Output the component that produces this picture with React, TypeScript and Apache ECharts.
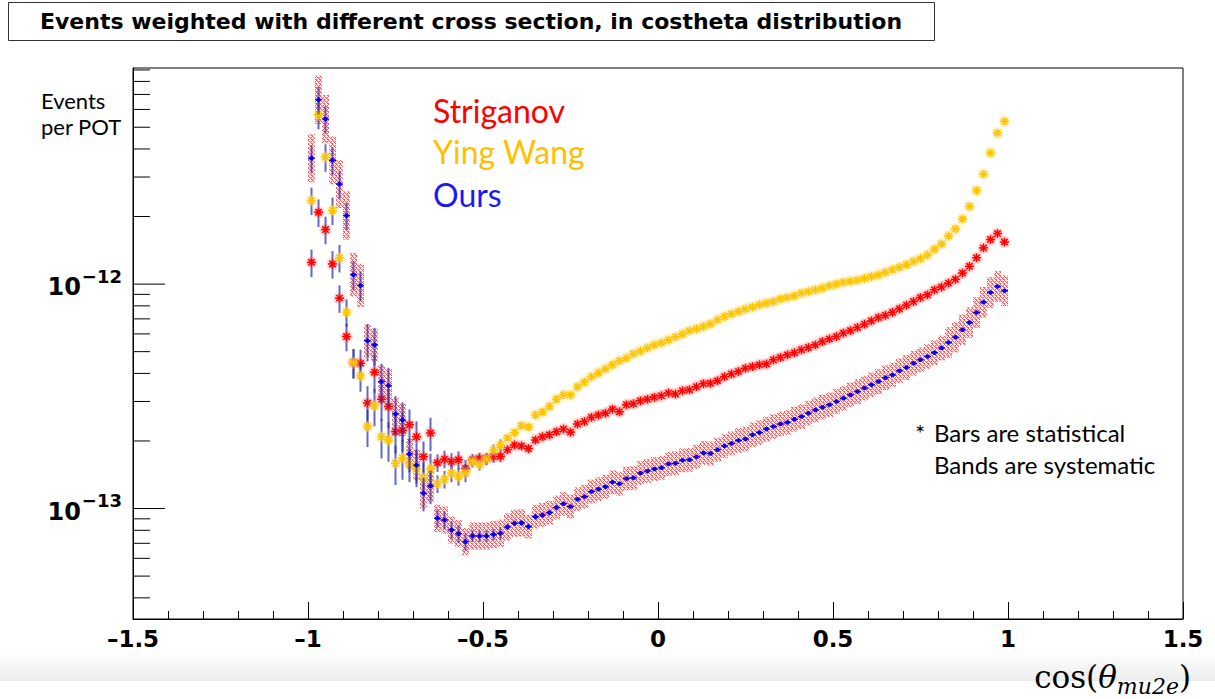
import React, { useEffect, useRef } from 'react';
import * as echarts from 'echarts';

// ---------- binning ----------
const BIN_LOW = -1;
const BIN_WIDTH = 0.02;
const N_BINS = 100;
const binCenters: number[] = Array.from({ length: N_BINS }, (_, i) => +(BIN_LOW + BIN_WIDTH * (i + 0.5)).toFixed(3));

// ---------- series values (events per POT) ----------
const striganov = [
  1.25e-12, 2.09e-12, 1.75e-12, 1.23e-12, 8.66e-13, 5.84e-13, 4.47e-13, 4.44e-13, 2.95e-13, 4.05e-13,
  3.07e-13, 2.85e-13, 2.20e-13, 2.23e-13, 2.36e-13, 2.09e-13, 1.70e-13, 2.17e-13, 1.60e-13, 1.66e-13,
  1.62e-13, 1.65e-13, 1.51e-13, 1.65e-13, 1.67e-13, 1.67e-13, 1.70e-13, 1.71e-13, 1.83e-13, 1.92e-13,
  1.90e-13, 1.85e-13, 2.02e-13, 2.09e-13, 2.13e-13, 2.20e-13, 2.26e-13, 2.19e-13, 2.38e-13, 2.44e-13,
  2.55e-13, 2.61e-13, 2.66e-13, 2.77e-13, 2.70e-13, 2.90e-13, 2.93e-13, 3.02e-13, 3.07e-13, 3.13e-13,
  3.18e-13, 3.27e-13, 3.24e-13, 3.35e-13, 3.38e-13, 3.49e-13, 3.60e-13, 3.62e-13, 3.71e-13, 3.87e-13,
  3.98e-13, 4.08e-13, 4.22e-13, 4.29e-13, 4.37e-13, 4.41e-13, 4.60e-13, 4.71e-13, 4.84e-13, 4.95e-13,
  5.10e-13, 5.22e-13, 5.36e-13, 5.55e-13, 5.70e-13, 5.84e-13, 6.05e-13, 6.21e-13, 6.41e-13, 6.63e-13,
  6.86e-13, 7.10e-13, 7.26e-13, 7.49e-13, 7.76e-13, 8.06e-13, 8.36e-13, 8.71e-13, 8.96e-13, 9.43e-13,
  9.71e-13, 1.01e-12, 1.05e-12, 1.12e-12, 1.20e-12, 1.31e-12, 1.45e-12, 1.58e-12, 1.68e-12, 1.54e-12,
];

const yingWang = [
  2.36e-12, 5.69e-12, 3.68e-12, 2.13e-12, 1.31e-12, 7.50e-13, 4.46e-13, 3.90e-13, 2.32e-13, 2.87e-13,
  2.09e-13, 2.02e-13, 1.59e-13, 1.68e-13, 1.58e-13, 1.50e-13, 1.37e-13, 1.50e-13, 1.29e-13, 1.35e-13,
  1.44e-13, 1.39e-13, 1.44e-13, 1.62e-13, 1.57e-13, 1.66e-13, 1.82e-13, 1.92e-13, 2.06e-13, 2.18e-13,
  2.34e-13, 2.31e-13, 2.61e-13, 2.69e-13, 2.85e-13, 3.07e-13, 3.21e-13, 3.21e-13, 3.49e-13, 3.66e-13,
  3.86e-13, 4.02e-13, 4.19e-13, 4.37e-13, 4.55e-13, 4.69e-13, 4.89e-13, 5.04e-13, 5.20e-13, 5.36e-13,
  5.47e-13, 5.64e-13, 5.82e-13, 6.00e-13, 6.19e-13, 6.32e-13, 6.47e-13, 6.65e-13, 6.93e-13, 7.17e-13,
  7.37e-13, 7.55e-13, 7.74e-13, 7.90e-13, 8.09e-13, 8.23e-13, 8.36e-13, 8.60e-13, 8.72e-13, 8.87e-13,
  9.12e-13, 9.27e-13, 9.43e-13, 9.60e-13, 9.83e-13, 1.00e-12, 1.02e-12, 1.03e-12, 1.04e-12, 1.06e-12,
  1.08e-12, 1.10e-12, 1.13e-12, 1.16e-12, 1.19e-12, 1.22e-12, 1.26e-12, 1.30e-12, 1.35e-12, 1.43e-12,
  1.51e-12, 1.64e-12, 1.76e-12, 1.95e-12, 2.22e-12, 2.61e-12, 3.09e-12, 3.84e-12, 4.71e-12, 5.31e-12,
];

const ours = [
  3.64e-12, 6.63e-12, 5.44e-12, 3.56e-12, 2.79e-12, 2.02e-12, 1.10e-12, 9.86e-13, 5.59e-13, 5.36e-13,
  3.68e-13, 3.53e-13, 2.64e-13, 2.48e-13, 1.75e-13, 1.56e-13, 1.17e-13, 1.26e-13, 9.05e-14, 8.89e-14,
  8.03e-14, 7.73e-14, 7.12e-14, 7.55e-14, 7.55e-14, 7.55e-14, 7.67e-14, 7.76e-14, 8.28e-14, 8.60e-14,
  8.63e-14, 8.31e-14, 9.20e-14, 9.36e-14, 9.59e-14, 1.01e-13, 1.05e-13, 1.02e-13, 1.10e-13, 1.13e-13,
  1.19e-13, 1.22e-13, 1.25e-13, 1.31e-13, 1.29e-13, 1.36e-13, 1.37e-13, 1.44e-13, 1.47e-13, 1.50e-13,
  1.52e-13, 1.58e-13, 1.59e-13, 1.64e-13, 1.65e-13, 1.70e-13, 1.77e-13, 1.76e-13, 1.83e-13, 1.90e-13,
  1.95e-13, 2.01e-13, 2.04e-13, 2.13e-13, 2.18e-13, 2.26e-13, 2.32e-13, 2.38e-13, 2.42e-13, 2.50e-13,
  2.57e-13, 2.66e-13, 2.75e-13, 2.83e-13, 2.90e-13, 3.00e-13, 3.10e-13, 3.21e-13, 3.32e-13, 3.44e-13,
  3.56e-13, 3.68e-13, 3.83e-13, 3.94e-13, 4.11e-13, 4.25e-13, 4.44e-13, 4.60e-13, 4.76e-13, 4.95e-13,
  5.19e-13, 5.49e-13, 5.80e-13, 6.26e-13, 6.74e-13, 7.47e-13, 8.30e-13, 9.17e-13, 9.76e-13, 9.34e-13,
];

// relative statistical error per bin (bars)
const statRel = [
  0.14, 0.14, 0.14, 0.14, 0.14, 0.14, 0.15, 0.15, 0.19, 0.19,
  0.20, 0.20, 0.20, 0.20, 0.17, 0.17, 0.17, 0.17, 0.09, 0.09,
  0.09, 0.09, 0.09, 0.06, 0.06, 0.06, 0.06, 0.06, 0.03, 0.03,
  0.03, 0.03, 0.03, 0.03, 0.03, 0.03, 0.015, 0.015, 0.015, 0.015,
  0.015, 0.015, 0.015, 0.015, 0.015, 0.015, 0.015, 0.015, 0.015, 0.015,
  0.015, 0.015, 0.015, 0.015, 0.015, 0.015, 0.015, 0.015, 0.015, 0.015,
  0.015, 0.015, 0.015, 0.015, 0.015, 0.015, 0.015, 0.015, 0.015, 0.015,
  0.015, 0.015, 0.015, 0.015, 0.015, 0.015, 0.015, 0.015, 0.015, 0.015,
  0.015, 0.015, 0.015, 0.015, 0.015, 0.015, 0.015, 0.015, 0.015, 0.015,
  0.015, 0.015, 0.015, 0.015, 0.015, 0.015, 0.015, 0.015, 0.015, 0.015,
];

// relative systematic error per bin (band, "Ours")
const sysRel = [
  0.28, 0.28, 0.28, 0.28, 0.28, 0.28, 0.25, 0.25, 0.18, 0.18,
  0.18, 0.18, 0.18, 0.18, 0.17, 0.17, 0.17, 0.17, 0.15, 0.15,
  0.15, 0.15, 0.15, 0.15, 0.15, 0.15, 0.15, 0.15, 0.15, 0.15,
  0.15, 0.13, 0.13, 0.13, 0.13, 0.13, 0.13, 0.13, 0.13, 0.13,
  0.13, 0.13, 0.13, 0.13, 0.13, 0.13, 0.13, 0.13, 0.13, 0.13,
  0.13, 0.13, 0.13, 0.13, 0.13, 0.13, 0.13, 0.13, 0.13, 0.13,
  0.13, 0.135, 0.135, 0.135, 0.135, 0.135, 0.135, 0.135, 0.135, 0.135,
  0.135, 0.135, 0.135, 0.135, 0.135, 0.135, 0.135, 0.135, 0.135, 0.135,
  0.135, 0.135, 0.135, 0.135, 0.135, 0.135, 0.135, 0.135, 0.135, 0.135,
  0.135, 0.17, 0.17, 0.17, 0.17, 0.17, 0.17, 0.17, 0.17, 0.17,
];

// ---------- axes ----------
const X_MIN = -1.5;
const X_MAX = 1.5;
const X_STEP = 0.5;
const Y_MIN = 3.22e-14;
const Y_MAX = 9.18e-12;
const yMajorTicks = [1e-13, 1e-12];
const yMinorTicks = [
  4e-14, 5e-14, 6e-14, 7e-14, 8e-14, 9e-14,
  2e-13, 3e-13, 4e-13, 5e-13, 6e-13, 7e-13, 8e-13, 9e-13,
  2e-12, 3e-12, 4e-12, 5e-12, 6e-12, 7e-12, 8e-12, 9e-12,
];

const TITLE = 'Events weighted with different cross section, in costheta distribution';
const SERIES_NAMES = ['Striganov', 'Ying Wang', 'Ours'];
const SERIES_COLORS = ['#ff0000', '#ffc400', '#0000ff'];

const STAT_COLOR = 'rgba(40,45,175,0.72)';
const ROOT_FONT = 'DejaVu Sans';

function makeHatch(): string | null {
  try {
    const c = document.createElement('canvas');
    c.width = 4;
    c.height = 4;
    const ctx = c.getContext('2d');
    if (!ctx) return null;
    ctx.fillStyle = 'rgba(255,255,255,0)';
    ctx.fillRect(0, 0, 4, 4);
    ctx.fillStyle = 'rgba(255,60,60,0.85)';
    const pts = [[0, 0], [1, 1], [3, 1], [2, 2], [0, 3], [3, 3]];
    pts.forEach(([px, py]) => ctx.fillRect(px, py, 1, 1));
    ctx.fillStyle = 'rgba(255,120,120,0.35)';
    const soft = [[1, 0], [2, 1], [3, 2], [1, 3]];
    soft.forEach(([px, py]) => ctx.fillRect(px, py, 1, 1));
    return c.toDataURL();
  } catch (e) {
    return null;
  }
}

export default function App() {
  const ref = useRef<HTMLDivElement>(null);

  useEffect(() => {
    if (!ref.current) return;
    const chart = echarts.init(ref.current, null, { renderer: 'svg' });

    const hatch = makeHatch();
    const bandFill: any = hatch
      ? { image: hatch, repeat: 'repeat', imageWidth: 4, imageHeight: 4 }
      : 'rgba(255,80,80,0.35)';

    const mkData = (vals: number[]) =>
      vals.map((v, i) => [binCenters[i], v, v * (1 - statRel[i]), v * (1 + statRel[i])]);

    const bandData = ours.map((v, i) => [binCenters[i], v, v / (1 + sysRel[i]), v * (1 + sysRel[i])]);

    const tickData = [
      ...yMajorTicks.map((v) => [X_MIN, v, 1]),
      ...yMinorTicks.map((v) => [X_MIN, v, 0]),
    ];

    const starRender = (color: string, halo: string) => (params: any, api: any) => {
      const x = api.value(0);
      const p = api.coord([x, api.value(1)]);
      const lo = api.coord([x, api.value(2)]);
      const hi = api.coord([x, api.value(3)]);
      const r = 4.4;
      const d = r * 0.72;
      const st = { stroke: color, lineWidth: 1.6 };
      return {
        type: 'group',
        children: [
          { type: 'line', shape: { x1: p[0], y1: lo[1], x2: p[0], y2: hi[1] }, style: { stroke: STAT_COLOR, lineWidth: 2 } },
          { type: 'circle', shape: { cx: p[0], cy: p[1], r: 6.2 }, style: { fill: halo } },
          { type: 'line', shape: { x1: p[0] - r, y1: p[1], x2: p[0] + r, y2: p[1] }, style: st },
          { type: 'line', shape: { x1: p[0], y1: p[1] - r, x2: p[0], y2: p[1] + r }, style: st },
          { type: 'line', shape: { x1: p[0] - d, y1: p[1] - d, x2: p[0] + d, y2: p[1] + d }, style: st },
          { type: 'line', shape: { x1: p[0] - d, y1: p[1] + d, x2: p[0] + d, y2: p[1] - d }, style: st },
        ],
      };
    };

    const dotRender = (params: any, api: any) => {
      const x = api.value(0);
      const v = api.value(1);
      const p = api.coord([x, v]);
      const lo = api.coord([x, api.value(2)]);
      const hi = api.coord([x, api.value(3)]);
      const l = api.coord([x - BIN_WIDTH / 2, v]);
      const rr = api.coord([x + BIN_WIDTH / 2, v]);
      return {
        type: 'group',
        children: [
          { type: 'line', shape: { x1: p[0], y1: lo[1], x2: p[0], y2: hi[1] }, style: { stroke: STAT_COLOR, lineWidth: 2 } },
          { type: 'line', shape: { x1: l[0], y1: p[1], x2: rr[0], y2: p[1] }, style: { stroke: '#0a0ab0', lineWidth: 1.3 } },
          { type: 'circle', shape: { cx: p[0], cy: p[1], r: 2.3 }, style: { fill: '#0000ff' } },
        ],
      };
    };

    const bandRender = (params: any, api: any) => {
      const x = api.value(0);
      const a = api.coord([x - BIN_WIDTH / 2, api.value(3)]);
      const b = api.coord([x + BIN_WIDTH / 2, api.value(2)]);
      return {
        type: 'rect',
        shape: { x: a[0], y: a[1], width: b[0] - a[0], height: b[1] - a[1] },
        style: { fill: bandFill },
      };
    };

    const tickRender = (params: any, api: any) => {
      const p = api.coord([api.value(0), api.value(1)]);
      const len = api.value(2) ? 32 : 17;
      return {
        type: 'line',
        shape: { x1: p[0], y1: p[1], x2: p[0] + len, y2: p[1] },
        style: { stroke: '#000', lineWidth: 1 },
      };
    };

    const option: any = {
      animation: false,
      backgroundColor: '#ffffff',
      grid: {
        left: 133,
        right: 32,
        top: 68,
        bottom: 80,
        show: true,
        borderColor: '#000',
        borderWidth: 1,
        backgroundColor: 'transparent',
      },
      xAxis: {
        type: 'value',
        min: X_MIN,
        max: X_MAX,
        interval: X_STEP,
        axisLine: { show: true, onZero: false, lineStyle: { color: '#000', width: 1 } },
        axisTick: { show: true, inside: true, length: 17, lineStyle: { color: '#000', width: 1 } },
        minorTick: { show: true, splitNumber: 5, length: 8, lineStyle: { color: '#000', width: 1 } },
        splitLine: { show: false },
        axisLabel: {
          margin: 8,
          color: '#000',
          fontFamily: ROOT_FONT,
          fontWeight: 'bold',
          fontSize: 23,
          formatter: (v: number) => (v < 0 ? '\u2013' + String(Math.abs(v)) : String(v)),
        },
      },
      yAxis: {
        type: 'log',
        logBase: 10,
        min: Y_MIN,
        max: Y_MAX,
        axisLine: { show: true, onZero: false, lineStyle: { color: '#000', width: 1 } },
        axisTick: { show: false },
        minorTick: { show: false },
        splitLine: { show: false },
        axisLabel: {
          margin: 11,
          formatter: (v: number) => {
            const e = Math.log10(v);
            const r = Math.round(e);
            if (Math.abs(e - r) > 1e-6) return '';
            return '{b|10}{s|\u2212' + String(-r) + '}';
          },
          rich: {
            b: { fontSize: 24, fontWeight: 'bold', fontFamily: ROOT_FONT, color: '#000', lineHeight: 34, padding: [6, 1, 0, 0] },
            s: { fontSize: 18, fontWeight: 'bold', fontFamily: ROOT_FONT, color: '#000', lineHeight: 18, verticalAlign: 'top' },
          },
        },
      },
      series: [
        {
          type: 'custom',
          name: 'yticks',
          silent: true,
          clip: false,
          renderItem: tickRender,
          data: tickData,
          z: 1,
        },
        {
          type: 'custom',
          name: 'Ours systematic',
          silent: true,
          clip: true,
          renderItem: bandRender,
          data: bandData,
          z: 2,
        },
        {
          type: 'custom',
          name: SERIES_NAMES[0],
          silent: true,
          clip: true,
          renderItem: starRender(SERIES_COLORS[0], 'rgba(255,110,110,0.28)'),
          data: mkData(striganov),
          z: 3,
        },
        {
          type: 'custom',
          name: SERIES_NAMES[1],
          silent: true,
          clip: true,
          renderItem: starRender(SERIES_COLORS[1], 'rgba(255,215,90,0.28)'),
          data: mkData(yingWang),
          z: 4,
        },
        {
          type: 'custom',
          name: SERIES_NAMES[2],
          silent: true,
          clip: true,
          renderItem: dotRender,
          data: mkData(ours),
          z: 5,
        },
      ],
      graphic: [
        {
          type: 'rect',
          z: -10,
          silent: true,
          shape: { x: 0, y: 652, width: 1215, height: 29 },
          style: {
            fill: {
              type: 'linear', x: 0, y: 0, x2: 0, y2: 1,
              colorStops: [
                { offset: 0, color: 'rgba(236,236,236,0)' },
                { offset: 1, color: 'rgba(236,236,236,1)' },
              ],
            },
          },
        },
        {
          type: 'rect',
          silent: true,
          shape: { x: 8.5, y: 2.5, width: 926, height: 38 },
          style: { fill: '#fff', stroke: '#333', lineWidth: 1 },
        },
        {
          type: 'text',
          silent: true,
          x: 471,
          y: 21,
          style: {
            text: TITLE,
            fontFamily: ROOT_FONT,
            fontWeight: 'bold',
            fontSize: 22,
            fill: '#000',
            align: 'center',
            verticalAlign: 'middle',
          },
        },
        {
          type: 'text',
          silent: true,
          x: 41,
          y: 100,
          style: { text: 'Events', fontFamily: 'Lato', fontSize: 22, fill: '#000', align: 'left', verticalAlign: 'middle' },
        },
        {
          type: 'text',
          silent: true,
          x: 41,
          y: 126,
          style: { text: 'per POT', fontFamily: 'Lato', fontSize: 22, fill: '#000', align: 'left', verticalAlign: 'middle' },
        },
        {
          type: 'text',
          silent: true,
          x: 433,
          y: 110,
          style: { text: SERIES_NAMES[0], fontFamily: 'Lato', fontSize: 32, fill: '#ff0000', align: 'left', verticalAlign: 'middle' },
        },
        {
          type: 'text',
          silent: true,
          x: 433,
          y: 151,
          style: { text: SERIES_NAMES[1], fontFamily: 'Lato', fontSize: 32, fill: '#ffc000', align: 'left', verticalAlign: 'middle' },
        },
        {
          type: 'text',
          silent: true,
          x: 433,
          y: 194,
          style: { text: SERIES_NAMES[2], fontFamily: 'Lato', fontSize: 32, fill: '#1a1af0', align: 'left', verticalAlign: 'middle' },
        },
        {
          type: 'text',
          silent: true,
          x: 915,
          y: 432,
          style: { text: '*', fontFamily: 'Lato', fontSize: 24, fill: '#000', align: 'left', verticalAlign: 'middle' },
        },
        {
          type: 'text',
          silent: true,
          x: 934,
          y: 432,
          style: { text: 'Bars are statistical', fontFamily: 'Lato', fontSize: 24, fill: '#000', align: 'left', verticalAlign: 'middle' },
        },
        {
          type: 'text',
          silent: true,
          x: 934,
          y: 464,
          style: { text: 'Bands are systematic', fontFamily: 'Lato', fontSize: 24, fill: '#000', align: 'left', verticalAlign: 'middle' },
        },
        {
          type: 'text',
          silent: true,
          x: 1191,
          y: 677,
          style: {
            text: '{a|cos(}{t|\u03b8}{b|mu2e}{a|)}',
            align: 'right',
            verticalAlign: 'middle',
            rich: {
              a: { fontFamily: 'DejaVu Serif', fontSize: 31, fill: '#000', lineHeight: 40 },
              t: { fontFamily: 'DejaVu Serif', fontStyle: 'italic', fontSize: 31, fill: '#000', lineHeight: 40 },
              b: { fontFamily: 'DejaVu Serif', fontStyle: 'italic', fontSize: 22, fill: '#000', lineHeight: 26, verticalAlign: 'bottom' },
            },
          },
        },
      ],
    };

    chart.setOption(option);
    return () => {
      chart.dispose();
    };
  }, []);

  return (
    <div
      ref={ref}
      style={{ position: 'fixed', left: 0, top: 0, width: 1215, height: 699, background: '#fff' }}
    />
  );
}
